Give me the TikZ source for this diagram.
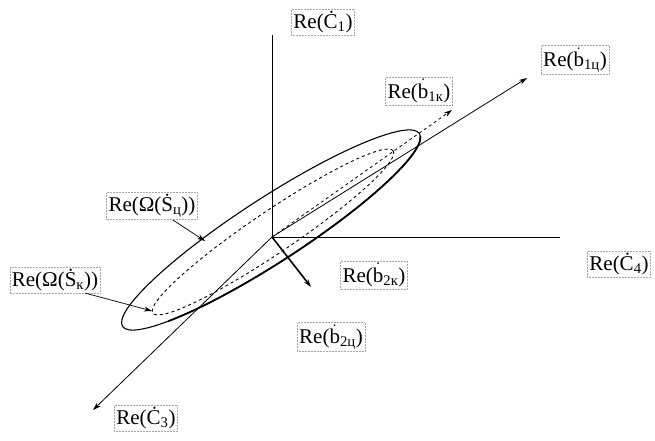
\documentclass[tikz,border=0pt]{standalone}
\usepackage{fontspec}
\setmainfont{Liberation Serif}
\usetikzlibrary{arrows.meta}
\newcommand{\bdot}{\ensuremath{\dot{\mbox{b}}}}
\begin{document}
\begin{tikzpicture}[x=1pt,y=1pt,
  lbl/.style={draw=gray!70, densely dotted, line width=0.5pt, inner sep=2pt, font=\fontsize{21}{24}\selectfont, text=black},
  axis/.style={line width=0.8pt},
  arr/.style={-{Stealth[length=8pt,width=5pt]}},
]
\useasboundingbox (0,0) rectangle (655,440);
\fill[white] (0,0) rectangle (655,440);
\coordinate (O) at (272,203);
\coordinate (vt) at (272,405);
\coordinate (hr) at (560,203);
\coordinate (c3e) at (93,30);
\coordinate (b1ce) at (527,362);
\coordinate (b1ke) at (452,330);
\coordinate (b2ke) at (311,153);
\coordinate (Ec) at (271,210);
\coordinate (Ic) at (273,208);
\coordinate (pA) at (205,199);
\coordinate (pB) at (152,129);

\node[lbl] (c1) at (323,418) {Re(\.{C}\textsubscript{1})};
\node[lbl] (b1c) at (575,380) {Re(\bdot\textsubscript{1ц})};
\node[lbl] (b1k) at (419,349) {Re(\bdot\textsubscript{1к})};
\node[lbl] (osc) at (152,234) {Re(Ω(\.{S}\textsubscript{ц}))};
\node[lbl] (osk) at (55,160) {Re(Ω(\.{S}\textsubscript{к}))};
\node[lbl] (b2k) at (374,165) {Re(\bdot\textsubscript{2к})};
\node[lbl] (c4) at (619,176) {Re(\.{C}\textsubscript{4})};
\node[lbl] (b2c) at (331,103) {Re(\bdot\textsubscript{2ц})};
\node[lbl] (c3) at (146,22) {Re(\.{C}\textsubscript{3})};

\draw[axis] (O) -- (vt);
\draw[axis] (O) -- (hr);
\draw[axis,arr] (O) -- (c3e);
\draw[axis,arr] (O) -- (b1ce);
\draw[axis,dashed,arr] (O) -- (b1ke);
\draw[line width=1.6pt,arr] (O) -- (b2ke);
\draw[line width=1.1pt, rotate around={33:(Ec)}] (Ec) ellipse [x radius=177, y radius=32];
\draw[line width=1.8pt, rotate around={33:(Ec)}] (Ec) ++(220:177 and 32) arc[start angle=220, end angle=355, x radius=177, y radius=32];
\draw[line width=0.9pt, dashed, rotate around={34:(Ic)}] (Ic) ellipse [x radius=145, y radius=21];
\draw[arr, line width=0.7pt] ([xshift=-25pt]osc.south east) -- (pA);
\draw[arr, line width=0.7pt] ([xshift=-15pt]osk.south east) -- (pB);
\end{tikzpicture}
\end{document}
